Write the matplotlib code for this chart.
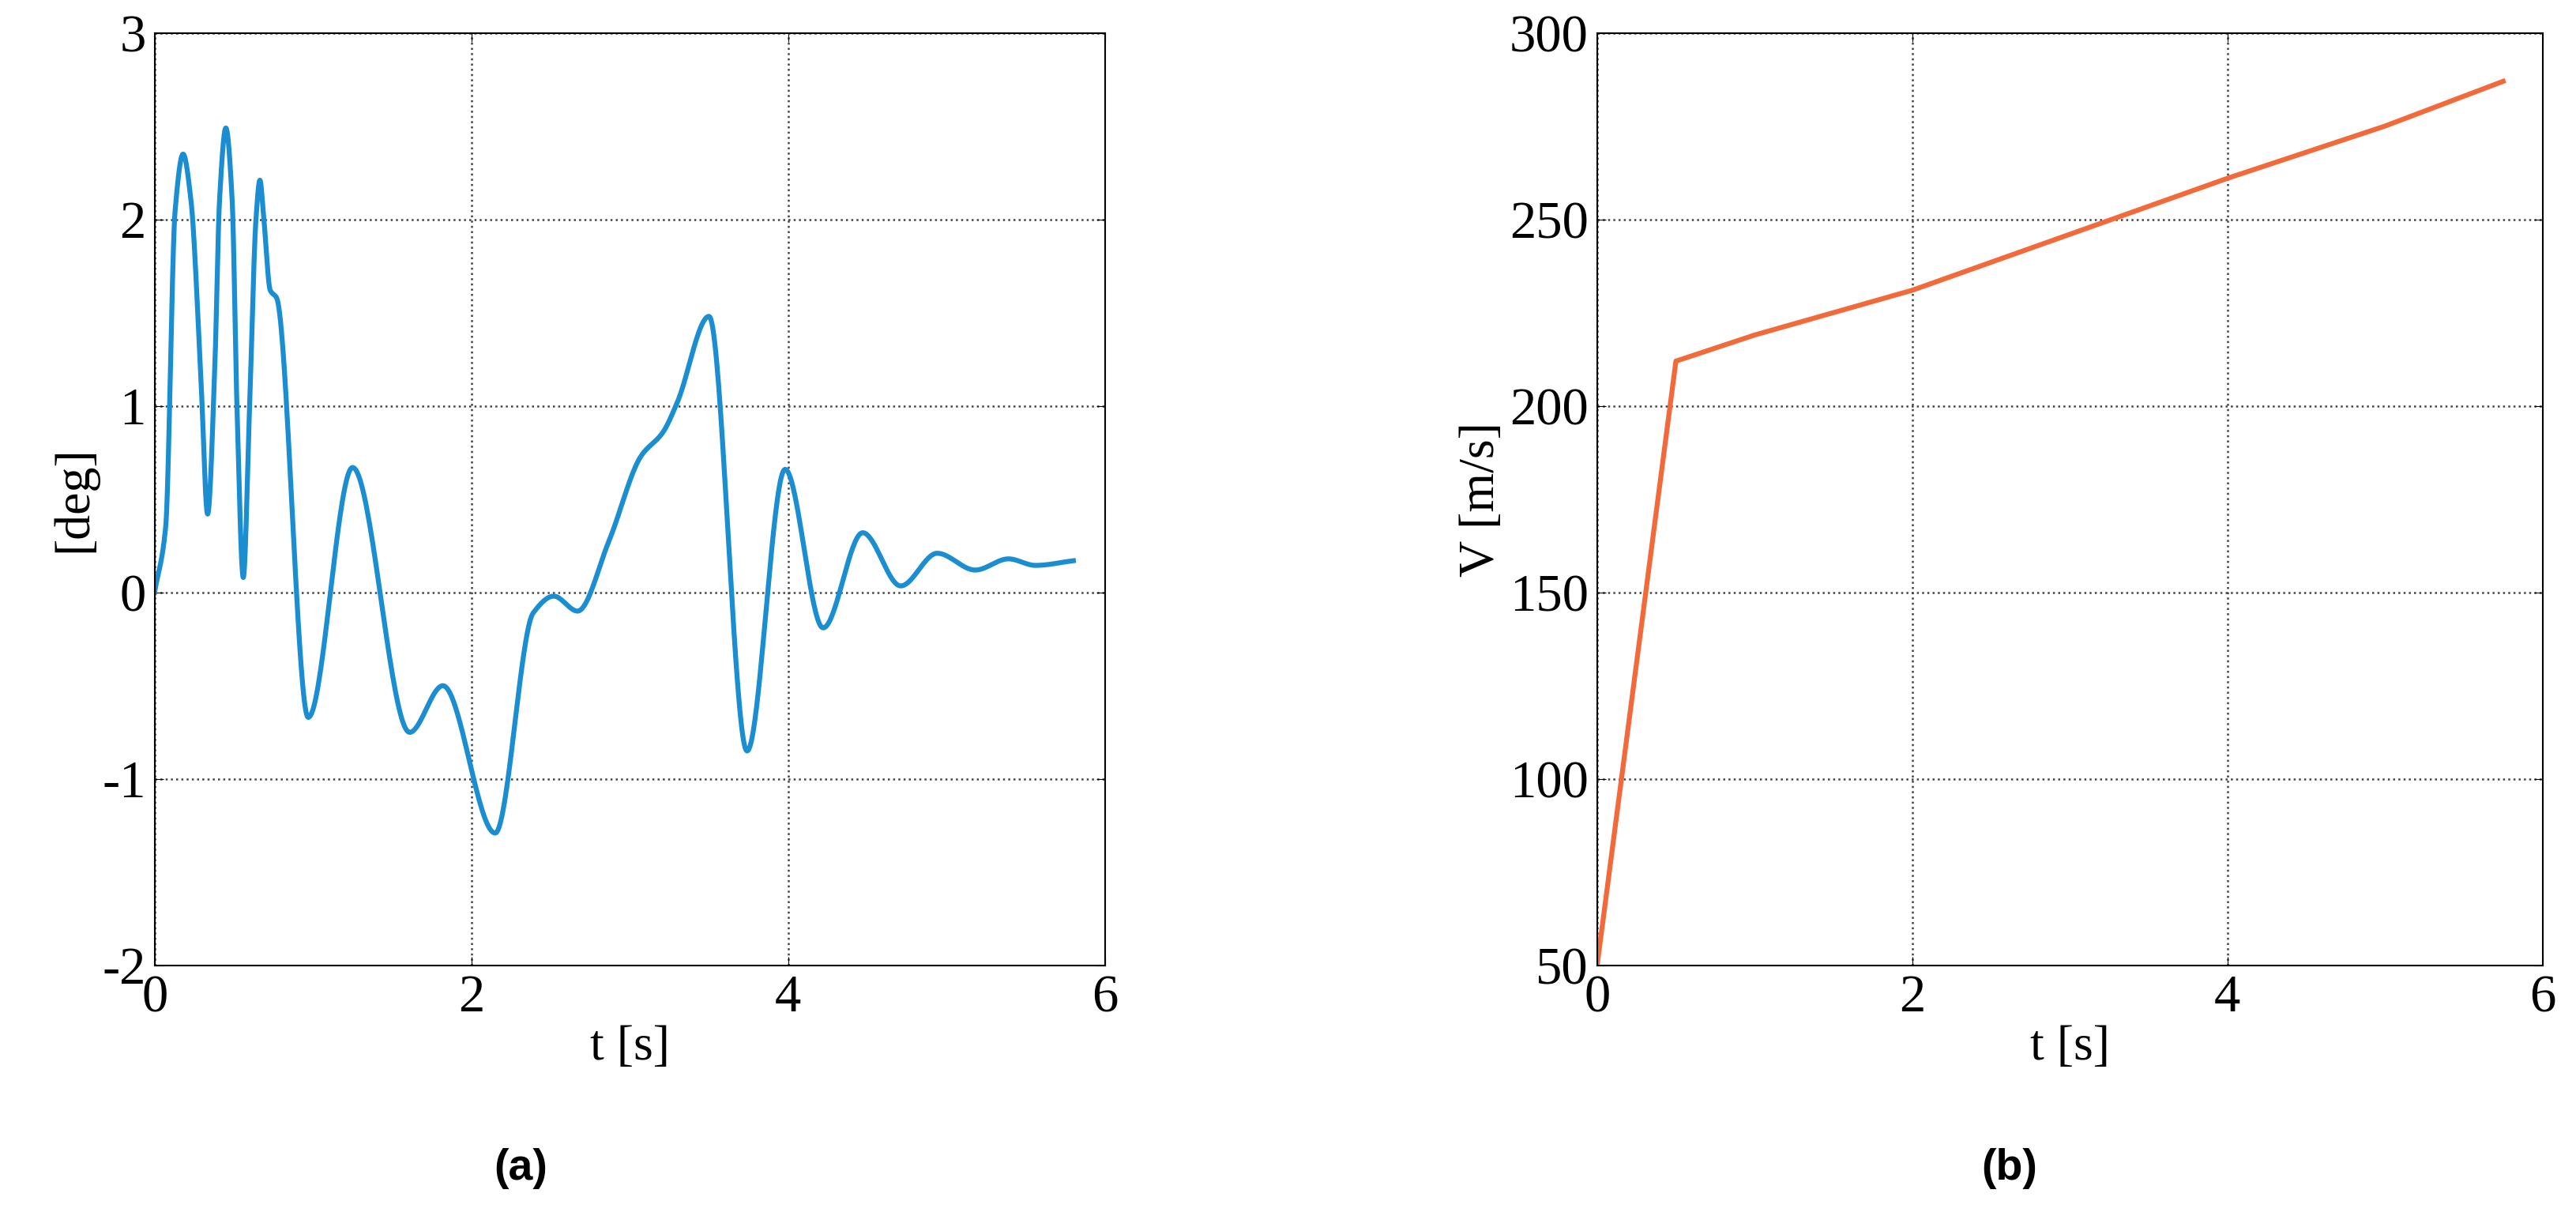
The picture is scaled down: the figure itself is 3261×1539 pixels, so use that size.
import numpy as np
import matplotlib.pyplot as plt

plt.rcParams["font.family"] = ["Liberation Serif", "DejaVu Serif"]
plt.rcParams["axes.unicode_minus"] = False

# panel (a): angle [deg] vs time
t_a = [0, 0.07, 0.13, 0.18, 0.23, 0.29, 0.335, 0.38, 0.41, 0.45, 0.49, 0.52,
       0.56, 0.6, 0.64, 0.665, 0.69, 0.73, 0.77, 0.97, 1.25, 1.61,
       1.82, 2.15, 2.39, 2.52, 2.67, 2.87, 3.07, 3.21, 3.3, 3.5, 3.74, 3.98,
       4.22, 4.47, 4.71, 4.94, 5.18, 5.39, 5.56, 5.8]
deg_a = [0, 0.35, 2.05, 2.35, 2.1, 1.2, 0.42, 1.2, 2.1, 2.49, 2.1, 1.0,
         0.08, 1.0, 2.0, 2.21, 2.0, 1.62, 1.58, -0.67, 0.67, -0.75,
         -0.5, -1.29, -0.11, -0.02, -0.1, 0.28, 0.73, 0.86, 1.02, 1.48, -0.85,
         0.66, -0.19, 0.32, 0.035, 0.21, 0.12, 0.18, 0.145, 0.17]

# panel (b): speed [m/s] vs time
t_b = [0, 0.5, 1, 2, 3, 4, 5, 5.75]
v_b = [50, 212, 219, 231, 246, 261, 275, 287]


def pchip(x, y, n=40):
    # monotone cubic so extrema stay where they were read
    x = np.asarray(x, float)
    y = np.asarray(y, float)
    h = np.diff(x)
    d = np.diff(y) / h
    m = np.zeros_like(y)
    for k in range(1, len(x) - 1):
        if d[k - 1] * d[k] > 0:
            w1 = 2 * h[k] + h[k - 1]
            w2 = h[k] + 2 * h[k - 1]
            m[k] = (w1 + w2) / (w1 / d[k - 1] + w2 / d[k])
    m[0] = d[0]
    m[-1] = d[-1]
    xs, ys = [], []
    for k in range(len(x) - 1):
        s = np.linspace(0, 1, n, endpoint=False)
        h00 = 2 * s**3 - 3 * s**2 + 1
        h10 = s**3 - 2 * s**2 + s
        h01 = -2 * s**3 + 3 * s**2
        h11 = s**3 - s**2
        xs.append(x[k] + s * h[k])
        ys.append(h00 * y[k] + h10 * h[k] * m[k] + h01 * y[k + 1] + h11 * h[k] * m[k + 1])
    xs.append([x[-1]])
    ys.append([y[-1]])
    return np.concatenate(xs), np.concatenate(ys)


fig = plt.figure(figsize=(32.61, 15.39), dpi=100)
ax1 = fig.add_axes([0.060, 0.206, 0.369, 0.767])
ax2 = fig.add_axes([0.620, 0.206, 0.367, 0.767])

xs, ys = pchip(t_a, deg_a)
ax1.plot(xs, ys, color="#1a8ed0", lw=4.5)
ax1.set_xlim(0, 6)
ax1.set_ylim(-2, 3)
ax1.set_xticks([0, 2, 4, 6])
ax1.set_yticks([-2, -1, 0, 1, 2, 3])
ax1.set_ylabel("[deg]", fontsize=46, labelpad=4)
ax1.set_xlabel("t [s]", fontsize=46, labelpad=2)

ax2.plot(t_b, v_b, color="#f26a3a", lw=4.5)
ax2.set_xlim(0, 6)
ax2.set_ylim(50, 300)
ax2.set_xticks([0, 2, 4, 6])
ax2.set_yticks([50, 100, 150, 200, 250, 300])
ax2.set_ylabel("V [m/s]", fontsize=46, labelpad=4)
ax2.set_xlabel("t [s]", fontsize=46, labelpad=2)

for ax in (ax1, ax2):
    ax.grid(True, color="#444444", linestyle=":", linewidth=1.8)
    ax.tick_params(direction="in", length=8, labelsize=48, top=True, right=True, pad=8)
    for s in ax.spines.values():
        s.set_linewidth(1.5)

fig.text(0.202, 0.03, "(a)", fontsize=40, fontweight="bold", family="Liberation Sans", ha="center")
fig.text(0.780, 0.03, "(b)", fontsize=40, fontweight="bold", family="Liberation Sans", ha="center")

fig.savefig("out.png", dpi=100)
